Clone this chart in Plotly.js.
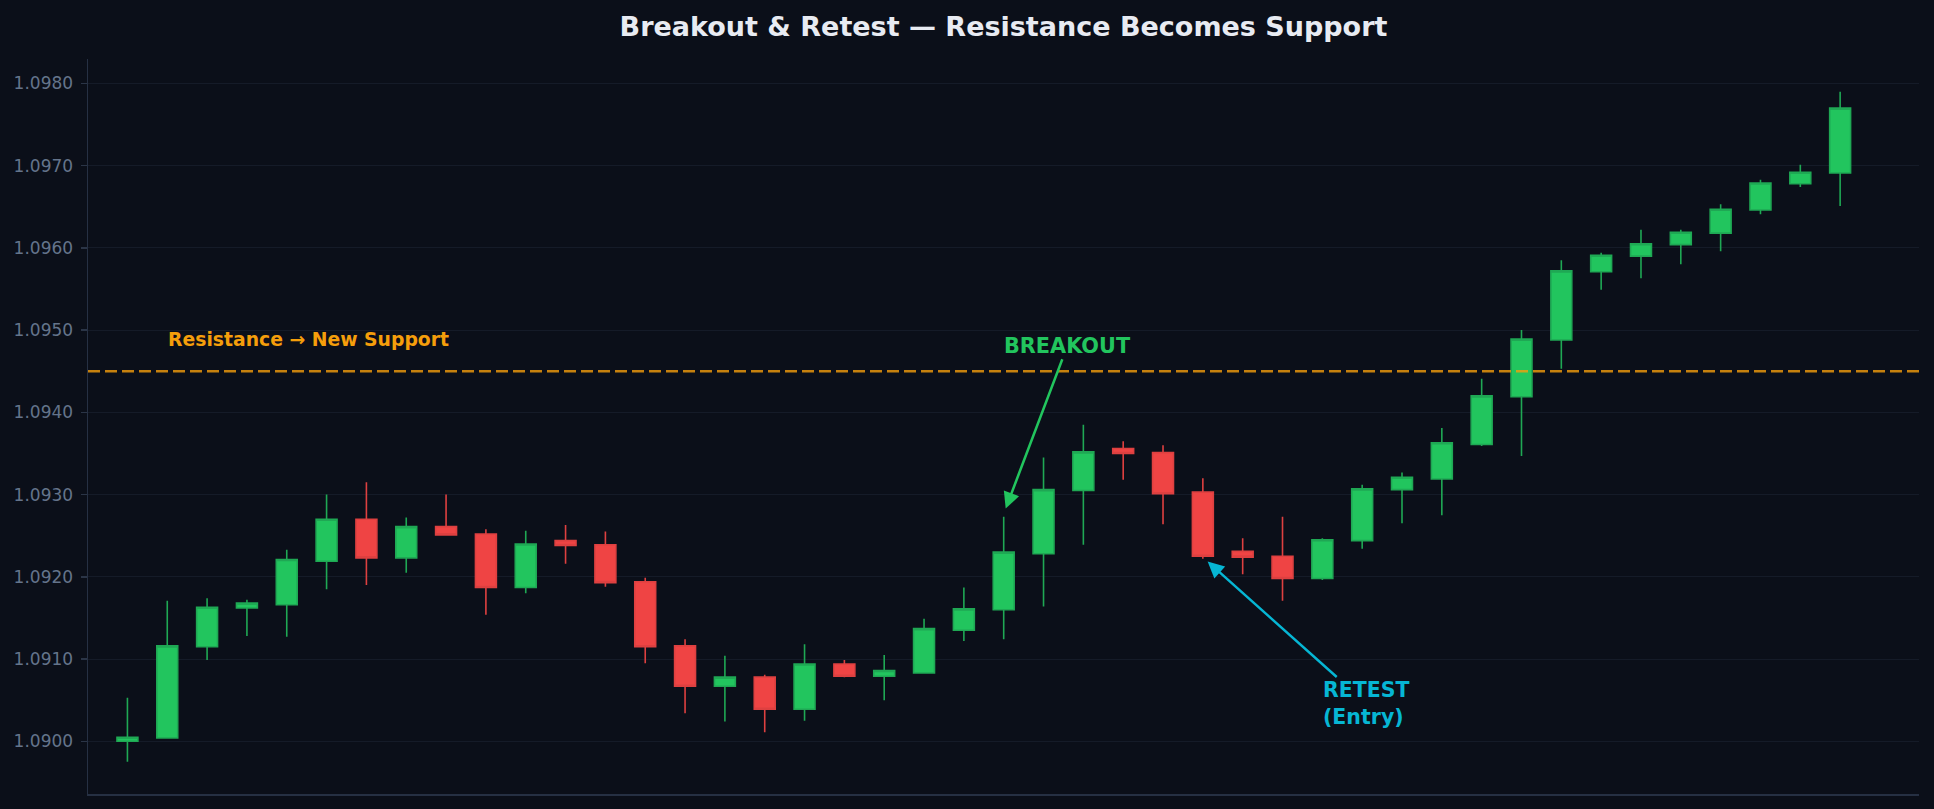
<!DOCTYPE html>
<html>
<head>
<meta charset="utf-8">
<script src="https://cdn.plot.ly/plotly-3.0.1.min.js"></script>
<style>
  html, body { margin: 0; padding: 0; background: #0b0f19; }
  #chart { width: 1934px; height: 809px; }
</style>
</head>
<body>
<div id="chart"></div>
<script>
// candle index along the x axis
const candleIdx = [...Array(44).keys()];

// OHLC values
const opens = [
  1.09000, 1.09004, 1.09115, 1.09162, 1.09166, 1.09219, 1.09270, 1.09223, 1.09261, 1.09252,
  1.09187, 1.09244, 1.09239, 1.09194, 1.09116, 1.09067, 1.09078, 1.09039, 1.09094, 1.09079,
  1.09083, 1.09135, 1.09160, 1.09228, 1.09305, 1.09356, 1.09351, 1.09303, 1.09231, 1.09225,
  1.09198, 1.09244, 1.09306, 1.09319, 1.09361, 1.09419, 1.09488, 1.09571, 1.09590, 1.09604,
  1.09618, 1.09646, 1.09678, 1.09691
];
const highs = [
  1.09053, 1.09171, 1.09174, 1.09172, 1.09233, 1.09300, 1.09315, 1.09272, 1.09300, 1.09258,
  1.09256, 1.09263, 1.09255, 1.09199, 1.09124, 1.09104, 1.09081, 1.09118, 1.09099, 1.09105,
  1.09149, 1.09187, 1.09273, 1.09345, 1.09385, 1.09365, 1.09360, 1.09320, 1.09247, 1.09273,
  1.09247, 1.09312, 1.09327, 1.09381, 1.09441, 1.09500, 1.09585, 1.09594, 1.09622, 1.09622,
  1.09653, 1.09683, 1.09701, 1.09790
];
const lows = [
  1.08975, 1.09003, 1.09099, 1.09128, 1.09127, 1.09185, 1.09190, 1.09205, 1.09250, 1.09154,
  1.09180, 1.09216, 1.09188, 1.09095, 1.09034, 1.09024, 1.09011, 1.09025, 1.09078, 1.09050,
  1.09082, 1.09122, 1.09124, 1.09164, 1.09239, 1.09318, 1.09264, 1.09222, 1.09203, 1.09171,
  1.09196, 1.09234, 1.09265, 1.09275, 1.09359, 1.09347, 1.09453, 1.09549, 1.09563, 1.09580,
  1.09596, 1.09641, 1.09674, 1.09651
];
const closes = [
  1.09005, 1.09116, 1.09163, 1.09168, 1.09221, 1.09270, 1.09223, 1.09261, 1.09251, 1.09187,
  1.09240, 1.09238, 1.09193, 1.09115, 1.09067, 1.09078, 1.09039, 1.09094, 1.09079, 1.09086,
  1.09137, 1.09161, 1.09230, 1.09306, 1.09352, 1.09350, 1.09301, 1.09225, 1.09224, 1.09198,
  1.09245, 1.09307, 1.09321, 1.09363, 1.09420, 1.09489, 1.09572, 1.09591, 1.09605, 1.09619,
  1.09647, 1.09679, 1.09692, 1.09770
];

// key levels / markers
const supportLevel = 1.0945;
const yTicks = [1.0900, 1.0910, 1.0920, 1.0930, 1.0940, 1.0950, 1.0960, 1.0970, 1.0980];
const breakoutPoint = { x: 22.05, y: 1.09283, tx: 23.6, ty: 1.09481 };
const retestPoint = { x: 27.12, y: 1.092185, tx: 31.12, ty: 1.090454 };

const font = 'DejaVu Sans, Liberation Sans, sans-serif';

const trace = {
  type: 'candlestick',
  x: candleIdx,
  open: opens, high: highs, low: lows, close: closes,
  increasing: { line: { color: '#1fa854', width: 1.6 }, fillcolor: '#22c55e' },
  decreasing: { line: { color: '#de4040', width: 1.6 }, fillcolor: '#ef4444' },
  whiskerwidth: 0,
  hoverinfo: 'none',
  showlegend: false
};

const layout = {
  width: 1934, height: 809,
  paper_bgcolor: '#0b0f19',
  plot_bgcolor: '#0b0f19',
  margin: { l: 88, r: 15, t: 59, b: 15 },
  boxgap: 0.25, boxgroupgap: 0.3,
  showlegend: false,
  title: {
    text: 'Breakout & Retest — Resistance Becomes Support',
    font: { family: font, size: 27, color: '#e8ebf2', weight: 'bold' },
    x: 0.5, xref: 'paper', xanchor: 'center',
    y: 1 - 27 / 809, yref: 'container', yanchor: 'middle'
  },
  xaxis: {
    range: [-0.99, 44.98],
    showgrid: false, zeroline: false,
    showticklabels: false, ticks: '',
    showline: true, linecolor: '#263043', linewidth: 1.5,
    rangeslider: { visible: false },
    fixedrange: true
  },
  yaxis: {
    range: [1.089359, 1.098297],
    tickvals: yTicks,
    ticktext: yTicks.map(v => v.toFixed(4)),
    tickfont: { family: font, size: 17, color: '#64748b' },
    ticks: 'outside', ticklen: 6, tickwidth: 1.5, tickcolor: '#2b3547',
    ticklabelstandoff: 4,
    showgrid: true, gridcolor: '#151b28', gridwidth: 1,
    zeroline: false,
    showline: true, linecolor: '#263043', linewidth: 1.5,
    fixedrange: true
  },
  shapes: [{
    type: 'line', xref: 'paper', x0: 0, x1: 1,
    yref: 'y', y0: supportLevel, y1: supportLevel,
    line: { color: 'rgba(245,158,11,0.8)', width: 2.5, dash: '12px,5px' }
  }],
  annotations: [
    {
      x: 0.97, y: 1.09488, xref: 'x', yref: 'y',
      xanchor: 'left', yanchor: 'middle', showarrow: false,
      text: 'Resistance → New Support',
      font: { family: font, size: 18.8, color: '#f59e0b', weight: 'bold' }
    },
    {
      x: breakoutPoint.x, y: breakoutPoint.y, xref: 'x', yref: 'y',
      ax: breakoutPoint.tx, ay: breakoutPoint.ty, axref: 'x', ayref: 'y',
      showarrow: true, arrowhead: 2, arrowsize: 1.3, arrowwidth: 2.5, arrowcolor: '#22c55e',
      text: 'BREAKOUT',
      font: { family: font, size: 20.8, color: '#22c55e', weight: 'bold' }
    },
    {
      x: retestPoint.x, y: retestPoint.y, xref: 'x', yref: 'y',
      ax: retestPoint.tx, ay: retestPoint.ty, axref: 'x', ayref: 'y',
      showarrow: true, arrowhead: 2, arrowsize: 1.3, arrowwidth: 2.5, arrowcolor: '#06b6d4',
      text: 'RETEST<br>(Entry)', align: 'left',
      font: { family: font, size: 20.5, color: '#06b6d4', weight: 'bold' }
    }
  ]
};

Plotly.newPlot('chart', [trace], layout, { displayModeBar: false, staticPlot: true });
</script>
</body>
</html>
